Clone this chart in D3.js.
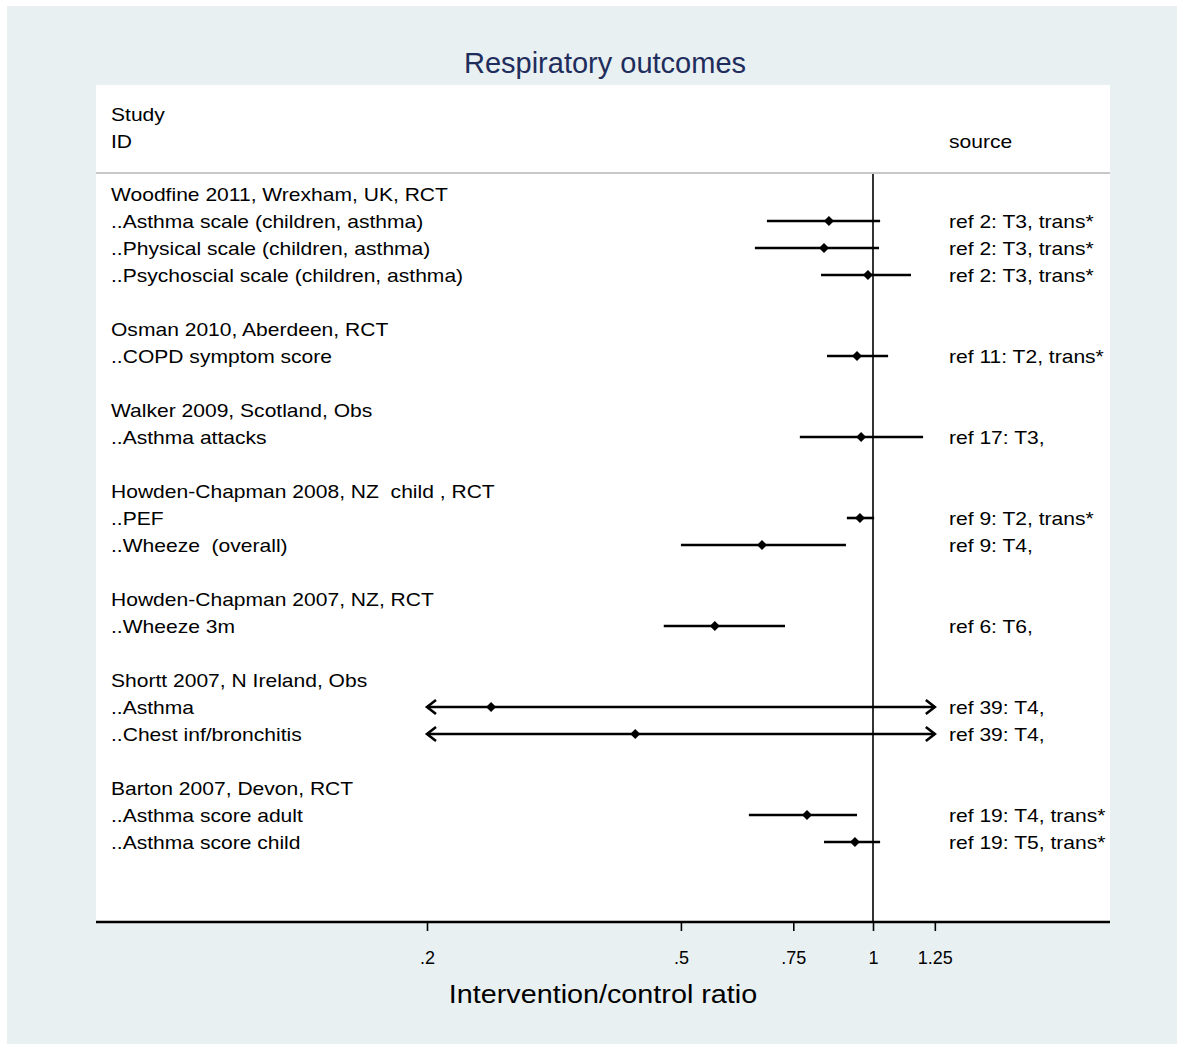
<!DOCTYPE html>
<html>
<head>
<meta charset="utf-8">
<script src="https://cdn.jsdelivr.net/npm/d3@7"></script>
<style>
  body { margin: 0; background: #fff; }
  text { font-family: "Liberation Sans", Arial, sans-serif; white-space: pre; }
</style>
</head>
<body>
<script>
// rows of the forest plot, top to bottom ("" = blank spacer row)
var labels = [
  "Woodfine 2011, Wrexham, UK, RCT",
  "..Asthma scale (children, asthma)",
  "..Physical scale (children, asthma)",
  "..Psychoscial scale (children, asthma)",
  "",
  "Osman 2010, Aberdeen, RCT",
  "..COPD symptom score",
  "",
  "Walker 2009, Scotland, Obs",
  "..Asthma attacks",
  "",
  "Howden-Chapman 2008, NZ  child , RCT",
  "..PEF",
  "..Wheeze  (overall)",
  "",
  "Howden-Chapman 2007, NZ, RCT",
  "..Wheeze 3m",
  "",
  "Shortt 2007, N Ireland, Obs",
  "..Asthma",
  "..Chest inf/bronchitis",
  "",
  "Barton 2007, Devon, RCT",
  "..Asthma score adult",
  "..Asthma score child"
];
var sources = [
  "", "ref 2: T3, trans*", "ref 2: T3, trans*", "ref 2: T3, trans*", "",
  "", "ref 11: T2, trans*", "",
  "", "ref 17: T3,", "",
  "", "ref 9: T2, trans*", "ref 9: T4,", "",
  "", "ref 6: T6,", "",
  "", "ref 39: T4,", "ref 39: T4,", "",
  "", "ref 19: T4, trans*", "ref 19: T5, trans*"
];
// estimates and confidence limits (null for header / blank rows)
var est = [null, 0.853, 0.838, 0.982, null, null, 0.944, null, null, 0.958, null,
  null, 0.954, 0.670, null, null, 0.565, null, null, 0.252, 0.424, null, null, 0.788, 0.937];
var lower = [null, 0.682, 0.653, 0.829, null, null, 0.847, null, null, 0.768, null,
  null, 0.910, 0.500, null, null, 0.470, null, null, 0.05, 0.08, null, null, 0.639, 0.838];
var upper = [null, 1.026, 1.022, 1.147, null, null, 1.056, null, null, 1.198, null,
  null, 1.004, 0.907, null, null, 0.728, null, null, 4.0, 3.0, null, null, 0.944, 1.026];
var ticks = [0.2, 0.5, 0.75, 1, 1.25];
var tickLabels = [".2", ".5", ".75", "1", "1.25"];

var W = 1184, H = 1050;
var svg = d3.select("body").append("svg")
  .attr("width", W).attr("height", H);

// outer background
svg.append("rect").attr("x", 7).attr("y", 6)
  .attr("width", 1170).attr("height", 1038).attr("fill", "#e8f0f2");

var plotL = 96, plotR = 1110, plotT = 85, plotB = 922;
svg.append("rect").attr("x", plotL).attr("y", plotT)
  .attr("width", plotR - plotL).attr("height", plotB - plotT).attr("fill", "#fff");

// text that is a bit wider than the font normally draws it
function wideText(px, py, size, str, sx) {
  return svg.append("text")
    .attr("transform", "translate(" + px + "," + py + ") scale(" + sx + ",1)")
    .style("font-size", size + "px").text(str);
}

svg.append("text").attr("x", 605).attr("y", 73)
  .attr("text-anchor", "middle").style("font-size", "29px")
  .style("fill", "#1f2d5c").text("Respiratory outcomes");

var x = d3.scaleLog().domain([0.2, 1]).range([427, 873]);
var xMin = 0.2, xMax = 1.25;

var y = d3.scaleLinear().domain([0, 1]).range([194, 221]);

// header
wideText(111, 121, 18, "Study", 1.17);
wideText(111, 148, 18, "ID", 1.17);
wideText(949, 148, 18, "source", 1.17);
svg.append("line").attr("x1", plotL).attr("x2", plotR).attr("y1", 173).attr("y2", 173)
  .attr("stroke", "#c8c8c8").attr("stroke-width", 2);

// null line
svg.append("line").attr("x1", x(1)).attr("x2", x(1)).attr("y1", 174).attr("y2", plotB)
  .attr("stroke", "#000").attr("stroke-width", 1.6);

// labels
svg.selectAll("text.lab").data(labels).enter().append("text")
  .attr("class", "lab")
  .attr("transform", function(d, i) { return "translate(111," + (y(i) + 7) + ") scale(1.17,1)"; })
  .style("font-size", "18px").text(String);
svg.selectAll("text.src").data(sources).enter().append("text")
  .attr("class", "src")
  .attr("transform", function(d, i) { return "translate(949," + (y(i) + 7) + ") scale(1.17,1)"; })
  .style("font-size", "18px").text(String);

var idx = d3.range(labels.length).filter(function(i) { return est[i] != null; });

var ci = svg.append("g");
ci.selectAll("line").data(idx).enter().append("line")
  .attr("x1", function(i) { return x(Math.max(lower[i], xMin)); })
  .attr("x2", function(i) { return x(Math.min(upper[i], xMax)); })
  .attr("y1", function(i) { return y(i); })
  .attr("y2", function(i) { return y(i); })
  .attr("stroke", "#000").attr("stroke-width", 2.6);

// arrowheads where the interval runs off the axis
function arrow(i, side) {
  var ax = side < 0 ? x(xMin) : x(xMax), yy = y(i);
  return "M" + (ax - side * 9) + "," + (yy - 7) + "L" + ax + "," + yy + "L" + (ax - side * 9) + "," + (yy + 7);
}
idx.forEach(function(i) {
  if (lower[i] < xMin) ci.append("path").attr("d", arrow(i, -1))
    .attr("fill", "none").attr("stroke", "#000").attr("stroke-width", 2.6);
  if (upper[i] > xMax) ci.append("path").attr("d", arrow(i, 1))
    .attr("fill", "none").attr("stroke", "#000").attr("stroke-width", 2.6);
});

// square diamonds (rotated squares)
svg.selectAll("path.pt").data(idx).enter().append("path")
  .attr("class", "pt")
  .attr("transform", function(i) { return "translate(" + x(est[i]) + "," + y(i) + ") rotate(45)"; })
  .attr("d", d3.symbol().type(d3.symbolSquare).size(50))
  .attr("fill", "#000");

// x axis
var axis = svg.append("g").attr("transform", "translate(0," + plotB + ")")
  .call(d3.axisBottom(x).tickValues(ticks).tickSize(9).tickPadding(20)
    .tickFormat(function(d, i) { return tickLabels[i]; }));
axis.select(".domain").remove();
axis.selectAll(".tick line").attr("stroke-width", 1.6);
axis.selectAll(".tick text").style("font-size", "18px").attr("fill", "#000")
  .style("font-family", "'Liberation Sans', Arial, sans-serif");
axis.append("line").attr("x1", plotL).attr("x2", plotR).attr("y1", 0).attr("y2", 0)
  .attr("stroke", "#000").attr("stroke-width", 2.4);

svg.append("text")
  .attr("transform", "translate(603,1003) scale(1.15,1)")
  .attr("text-anchor", "middle").style("font-size", "25px")
  .text("Intervention/control ratio");
</script>
</body>
</html>
